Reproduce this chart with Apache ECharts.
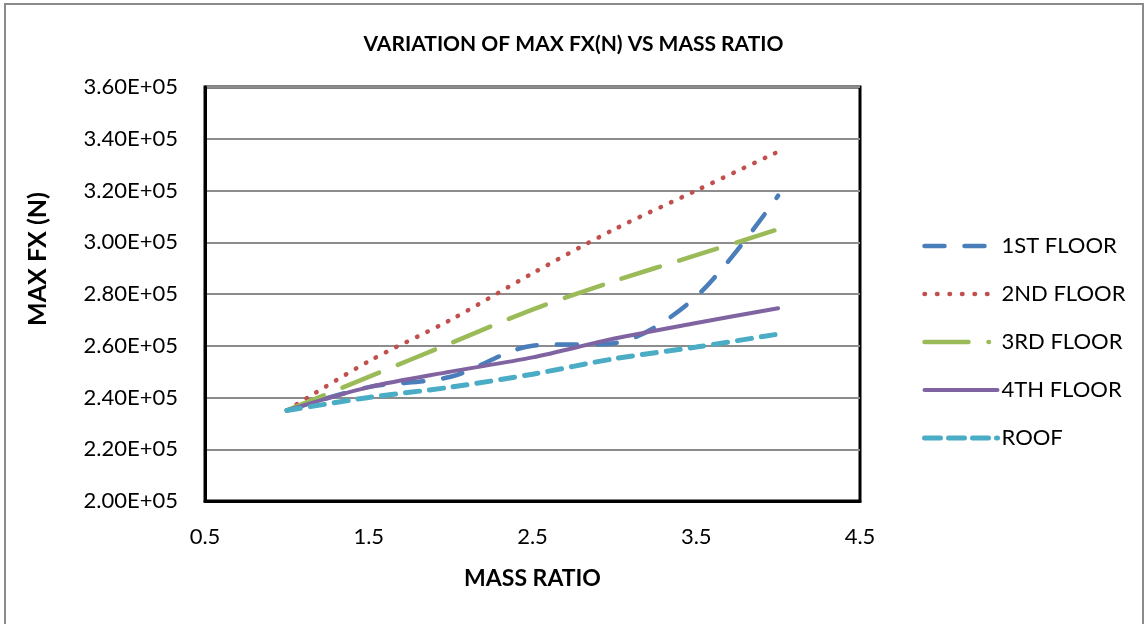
<!DOCTYPE html>
<html>
<head>
<meta charset="utf-8">
<script src="https://cdn.jsdelivr.net/npm/echarts@6/dist/echarts.min.js"></script>
<style>
  html, body { margin: 0; padding: 0; background: #fff; }
  #chart { width: 1147px; height: 624px; }
</style>
</head>
<body>
<div id="chart"></div>
<script>
// Mass ratio on the x axis, peak storey force FX (N) per level.
const massRatio = [1, 1.5, 2, 2.5, 3, 3.5, 4];
const firstFloor  = [235000, 244000, 248000, 260000, 261000, 279000, 318000];
const secondFloor = [235000, 254000, 270000, 288000, 305000, 320000, 335000];
const thirdFloor  = [235000, 248000, 261000, 274000, 285000, 295000, 305000];
const fourthFloor = [235000, 244000, 250000, 255500, 262800, 268800, 274500];
const roof        = [235000, 240000, 244000, 249000, 255000, 259500, 264500];

const seriesNames = ['1ST FLOOR', '2ND FLOOR', '3RD FLOOR', '4TH FLOOR', 'ROOF'];
const seriesValues = [firstFloor, secondFloor, thirdFloor, fourthFloor, roof];

const colors = ['#4A7EBB', '#C0504D', '#9BBB59', '#8064A2', '#4BACC6'];
const dashes = [[20, 20], [0.5, 11], [40, 20], 'solid', [14, 10]];
const legendDashes = [[20, 20], [0.5, 12], [44, 20, 0.5, 20], 'solid', [16, 8]];
const widths = [4.5, 4.5, 4.5, 4, 5];

const FONT = 'Lato, "Open Sans", sans-serif';

function pairs(ys) {
  return massRatio.map((x, i) => [x, ys[i]]);
}

const chart = echarts.init(document.getElementById('chart'), null, { renderer: 'canvas' });

chart.setOption({
  animation: false,
  backgroundColor: '#fff',
  textStyle: { fontFamily: FONT, color: '#000' },
  graphic: [{
    type: 'rect',
    shape: { x: 5, y: 4, width: 1138, height: 700 },
    style: { fill: 'none', stroke: '#8a8a8a', lineWidth: 2 },
    silent: true
  }],
  title: {
    text: 'VARIATION OF MAX FX(N) VS MASS RATIO',
    left: 'center',
    top: 29,
    textStyle: { fontFamily: FONT, fontSize: 21, fontWeight: 'bold', color: '#000' }
  },
  grid: {
    left: 205, right: 287, top: 87, bottom: 123,
    show: true,
    borderColor: '#000',
    borderWidth: 3,
    backgroundColor: '#fff'
  },
  legend: {
    orient: 'vertical',
    left: 917,
    top: 230,
    itemWidth: 73,
    itemHeight: 8,
    itemGap: 26,
    itemStyle: { opacity: 0 },
    textStyle: { fontFamily: FONT, fontSize: 22, color: '#000', padding: [0, 0, 0, -1] },
    data: seriesNames.map((n, i) => ({
      name: n,
      itemStyle: { opacity: 0 },
      lineStyle: { type: legendDashes[i], width: widths[i], cap: 'round', color: colors[i] }
    }))
  },
  xAxis: {
    type: 'value',
    min: 0.5,
    max: 4.5,
    interval: 1,
    name: 'MASS RATIO',
    nameLocation: 'middle',
    nameGap: 66,
    nameTextStyle: { fontFamily: FONT, fontSize: 23, fontWeight: 'bold', color: '#000' },
    axisLine: { show: true, lineStyle: { color: '#000', width: 3 } },
    axisTick: { show: false },
    splitLine: { show: false },
    axisLabel: {
      margin: 25,
      fontSize: 22,
      fontFamily: FONT,
      color: '#000',
      formatter: v => v.toFixed(1)
    }
  },
  yAxis: {
    type: 'value',
    min: 200000,
    max: 360000,
    interval: 20000,
    name: 'MAX FX (N)',
    nameLocation: 'middle',
    nameGap: 155,
    nameRotate: 90,
    nameTextStyle: {
      fontFamily: FONT, fontSize: 25, fontWeight: 'bold', color: '#000',
      padding: [0, 0, 0, 70]
    },
    axisLine: { show: true, lineStyle: { color: '#000', width: 3 } },
    axisTick: { show: false },
    splitLine: { show: true, lineStyle: { color: '#8c8c8c', width: 2 } },
    axisLabel: {
      margin: 27,
      fontSize: 22,
      fontFamily: FONT,
      color: '#000',
      formatter: v => (v / 100000).toFixed(2) + 'E+05'
    }
  },
  series: seriesNames.map((name, i) => ({
    name: name,
    type: 'line',
    data: pairs(seriesValues[i]),
    showSymbol: false,
    symbol: 'none',
    smooth: 0.3,
    color: colors[i],
    lineStyle: {
      color: colors[i],
      width: widths[i],
      type: dashes[i],
      cap: 'round'
    }
  }))
});
</script>
</body>
</html>
